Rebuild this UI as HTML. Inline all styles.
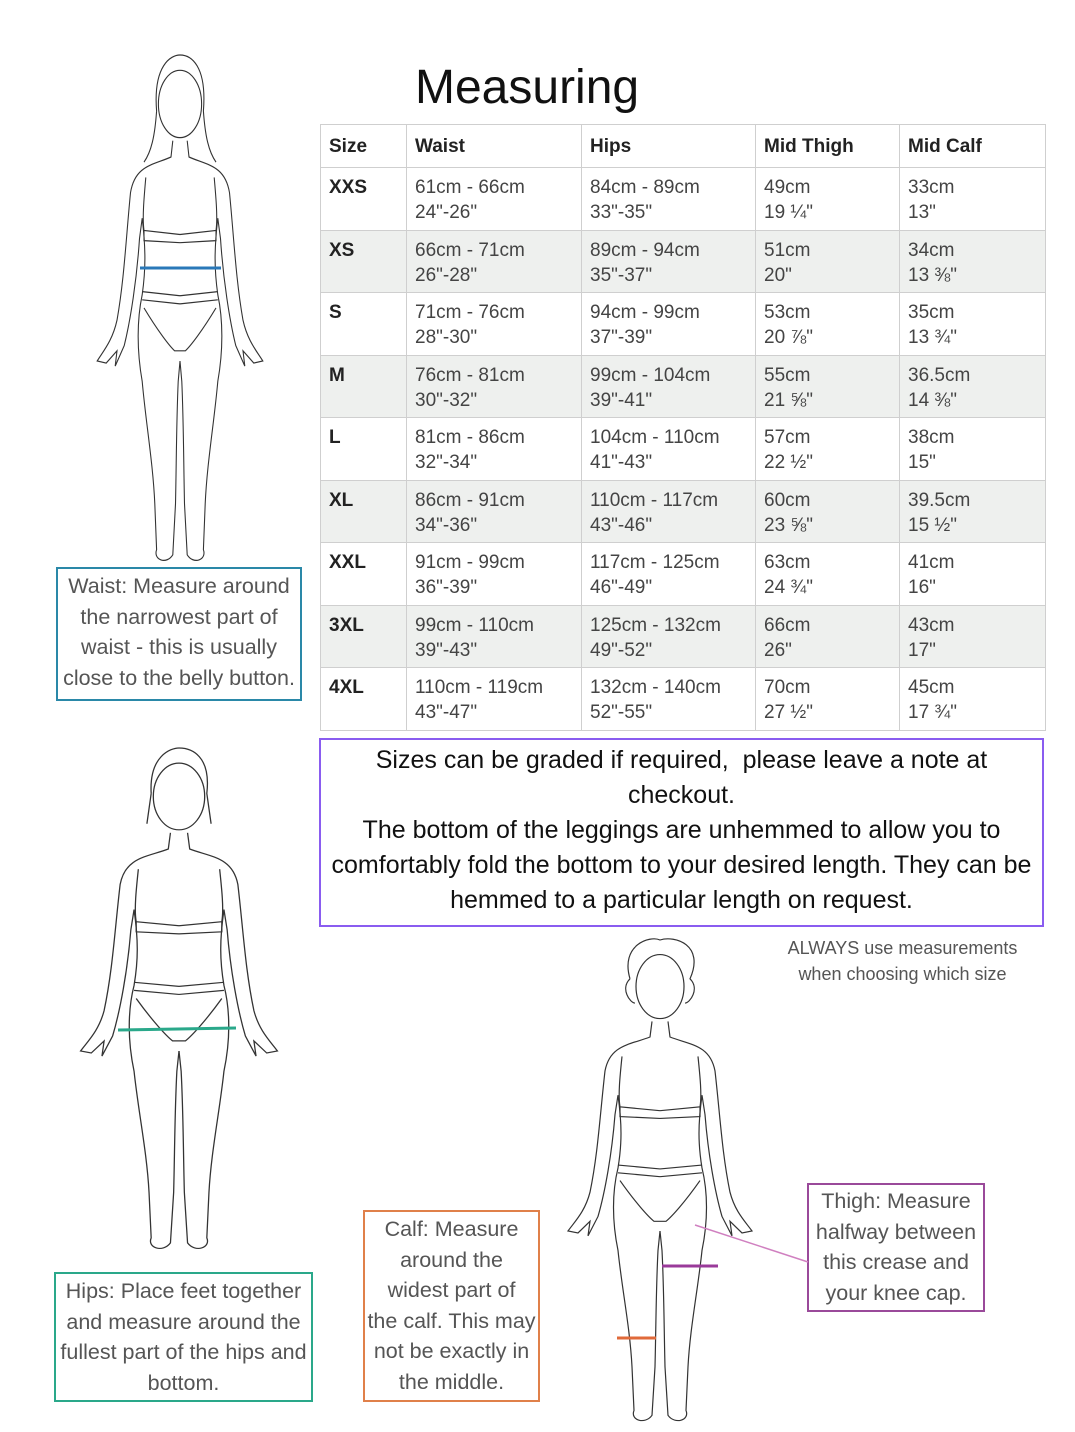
<!DOCTYPE html>
<html><head><meta charset="utf-8"><style>
body{margin:0;background:#fff;width:1075px;height:1432px;position:relative;overflow:hidden;font-family:"Liberation Sans",sans-serif}
.a{position:absolute}
table{position:absolute;left:320px;top:124px;border-collapse:collapse;width:725px;color:#444;font-size:19px;table-layout:fixed}
td{border:1.5px solid #cfcfcf;vertical-align:top;padding:7px 8px 0 8px;height:62.5px;line-height:25px;box-sizing:border-box;white-space:nowrap}
tr.h td{height:43px;padding-top:9px;color:#222;font-weight:bold;font-size:19px}
td.s{color:#222;font-weight:bold}
tr.g td{background:#eef0ee}
.box{position:absolute;border:2px solid;text-align:center;color:#555;font-size:21.5px;line-height:30.5px;box-sizing:border-box;white-space:nowrap}
</style></head><body>
<div class="a" style="left:415px;top:60px;font-size:48px;color:#111">Measuring</div>
<table>
<colgroup><col style="width:86px"><col style="width:175px"><col style="width:174px"><col style="width:144px"><col style="width:146px"></colgroup>
<tr class="h"><td>Size</td><td>Waist</td><td>Hips</td><td>Mid Thigh</td><td>Mid Calf</td></tr>
<tr><td class="s">XXS</td><td>61cm - 66cm<br>24"-26"</td><td>84cm - 89cm<br>33"-35"</td><td>49cm<br>19 ¼"</td><td>33cm<br>13"</td></tr>
<tr class="g"><td class="s">XS</td><td>66cm - 71cm<br>26"-28"</td><td>89cm - 94cm<br>35"-37"</td><td>51cm<br>20"</td><td>34cm<br>13 ⅜"</td></tr>
<tr><td class="s">S</td><td>71cm - 76cm<br>28"-30"</td><td>94cm - 99cm<br>37"-39"</td><td>53cm<br>20 ⅞"</td><td>35cm<br>13 ¾"</td></tr>
<tr class="g"><td class="s">M</td><td>76cm - 81cm<br>30"-32"</td><td>99cm - 104cm<br>39"-41"</td><td>55cm<br>21 ⅝"</td><td>36.5cm<br>14 ⅜"</td></tr>
<tr><td class="s">L</td><td>81cm - 86cm<br>32"-34"</td><td>104cm - 110cm<br>41"-43"</td><td>57cm<br>22 ½"</td><td>38cm<br>15"</td></tr>
<tr class="g"><td class="s">XL</td><td>86cm - 91cm<br>34"-36"</td><td>110cm - 117cm<br>43"-46"</td><td>60cm<br>23 ⅝"</td><td>39.5cm<br>15 ½"</td></tr>
<tr><td class="s">XXL</td><td>91cm - 99cm<br>36"-39"</td><td>117cm - 125cm<br>46"-49"</td><td>63cm<br>24 ¾"</td><td>41cm<br>16"</td></tr>
<tr class="g"><td class="s">3XL</td><td>99cm - 110cm<br>39"-43"</td><td>125cm - 132cm<br>49"-52"</td><td>66cm<br>26"</td><td>43cm<br>17"</td></tr>
<tr><td class="s">4XL</td><td>110cm - 119cm<br>43"-47"</td><td>132cm - 140cm<br>52"-55"</td><td>70cm<br>27 ½"</td><td>45cm<br>17 ¾"</td></tr>
</table>
<div class="box" style="left:319px;top:738px;width:725px;height:189px;border-color:#8a5cf0;color:#111;font-size:25px;line-height:35px;padding-top:3px">Sizes can be graded if required,&nbsp; please leave a note at<br>checkout.<br>The bottom of the leggings are unhemmed to allow you to<br>comfortably fold the bottom to your desired length. They can be<br>hemmed to a particular length on request.</div>
<div class="a" style="left:780px;top:935px;width:245px;text-align:center;color:#555;font-size:18px;line-height:26px">ALWAYS use measurements<br>when choosing which size</div>
<div class="box" style="left:56px;top:567px;width:246px;height:134px;border-color:#2a88a8;padding-top:2px">Waist: Measure around<br>the narrowest part of<br>waist - this is usually<br>close to the belly button.</div>
<div class="box" style="left:54px;top:1272px;width:259px;height:130px;border-color:#2aa88a;padding-top:2px">Hips: Place feet together<br>and measure around the<br>fullest part of the hips and<br>bottom.</div>
<div class="box" style="left:363px;top:1210px;width:177px;height:192px;border-color:#e0804a;padding-top:2px">Calf: Measure<br>around the<br>widest part of<br>the calf. This may<br>not be exactly in<br>the middle.</div>
<div class="box" style="left:807px;top:1183px;width:178px;height:129px;border-color:#9a4a9a;padding-top:1px">Thigh: Measure<br>halfway between<br>this crease and<br>your knee cap.</div>
<svg class="a" style="left:0;top:0" width="1075" height="1432" fill="none" stroke="#333" stroke-width="1.2">
<defs>
<g id="half">
<path d="M92,84 L90,100 C70,108 50,108 45,135 C40,180 38,220 30,260 C25,280 15,290 8,300 L18,302 L30,290 L28,305 L38,285 C45,260 52,220 55,180 L58,160 C62,190 62,210 58,235 C52,260 52,290 58,320 C62,360 70,400 72,440 L74,485 C70,495 85,500 92,490 L95,440 C96,400 96,360 98,320 L100,300"/>
<path d="M62,120 C60,140 58,160 60,172 L100,176 M60,172 L60,182 L100,184 M58,232 L100,236 M58,240 L100,244 M60,248 C75,270 88,285 94,290 L100,290"/>
</g>
<g id="fig"><use href="#half"/><use href="#half" transform="translate(200,0) scale(-1,1)"/><ellipse cx="100" cy="48" rx="24" ry="33"/></g>
</defs>
<g transform="translate(90,55) scale(0.9,1.02)"><use href="#fig"/><path d="M74,55 C70,10 90,0 100,0 C112,0 130,10 126,55 C128,80 132,95 140,105 M74,55 C72,80 68,95 60,105"/></g>
<g transform="translate(72,748) scale(1.07,1.01)"><use href="#fig"/><path d="M74,45 C72,8 92,0 100,0 C112,0 130,8 126,45 L130,75 M74,45 L70,75"/></g>
<g transform="translate(560,940) scale(1,0.97)"><use href="#fig"/><path d="M70,40 C60,5 90,-5 100,0 C115,-5 145,5 130,40 C140,50 130,65 125,65 M70,40 C60,50 70,65 75,65"/></g>
<line x1="140" y1="268" x2="221" y2="268" stroke="#2a78b8" stroke-width="3"/>
<line x1="118" y1="1030" x2="236" y2="1028" stroke="#2aa88a" stroke-width="3"/>
<line x1="662" y1="1266" x2="718" y2="1266" stroke="#9a3a9a" stroke-width="3"/>
<line x1="617" y1="1338" x2="656" y2="1338" stroke="#e06a3a" stroke-width="3"/>
<line x1="695" y1="1225" x2="808" y2="1262" stroke="#d080c0" stroke-width="1.5"/>
</svg>
</body></html>
